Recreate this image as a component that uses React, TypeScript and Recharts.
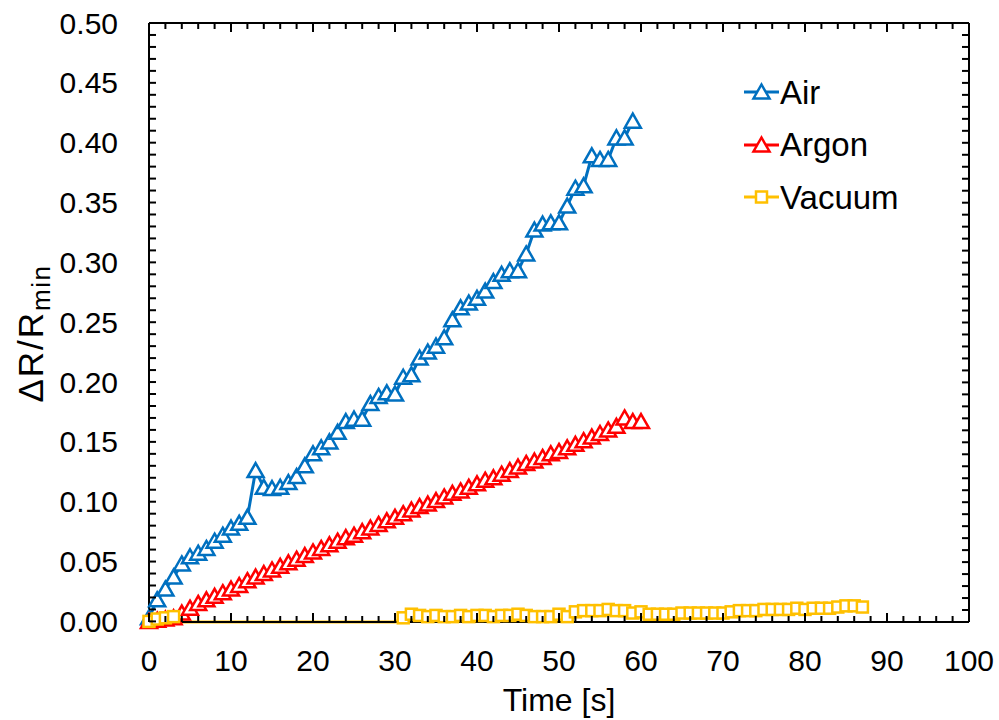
import React from 'react';
import { LineChart, Line, XAxis, YAxis, Legend } from 'recharts';

const FONT = '"Liberation Sans", Arial, Helvetica, sans-serif';

// ---- data ----
const time = [
  0, 1, 2, 3, 4, 5, 6, 7, 8, 9, 10, 11, 12, 13, 14, 15, 16, 17, 18, 19,
  20, 21, 22, 23, 24, 25, 26, 27, 28, 29, 30, 31, 32, 33, 34, 35, 36, 37, 38, 39,
  40, 41, 42, 43, 44, 45, 46, 47, 48, 49, 50, 51, 52, 53, 54, 55, 56, 57, 58, 59,
  60, 61, 62, 63, 64, 65, 66, 67, 68, 69, 70, 71, 72, 73, 74, 75, 76, 77, 78, 79,
  80, 81, 82, 83, 84, 85, 86, 87,
];

const airValues = [
  0.003, 0.018, 0.027, 0.037, 0.048, 0.054, 0.057, 0.061, 0.067, 0.072,
  0.078, 0.082, 0.087, 0.126, 0.112, 0.111, 0.112, 0.116, 0.121, 0.130,
  0.140, 0.145, 0.150, 0.158, 0.167, 0.169, 0.169, 0.182, 0.188, 0.191,
  0.190, 0.204, 0.206, 0.220, 0.225, 0.230, 0.237, 0.252, 0.262, 0.266,
  0.270, 0.276, 0.284, 0.290, 0.293, 0.293, 0.307, 0.327, 0.332, 0.333,
  0.333, 0.347, 0.362, 0.364, 0.389, 0.386, 0.386, 0.404, 0.404, 0.418,
];

const argonValues = [
  0.000, 0.001, 0.002, 0.003, 0.007, 0.011, 0.015, 0.018, 0.021, 0.024,
  0.027, 0.030, 0.034, 0.037, 0.040, 0.043, 0.046, 0.049, 0.052, 0.055,
  0.058, 0.061, 0.064, 0.067, 0.070, 0.072, 0.075, 0.078, 0.081, 0.084,
  0.087, 0.090, 0.093, 0.096, 0.098, 0.101, 0.104, 0.107, 0.109, 0.112,
  0.115, 0.118, 0.120, 0.123, 0.126, 0.129, 0.132, 0.134, 0.137, 0.140,
  0.142, 0.145, 0.148, 0.151, 0.154, 0.157, 0.160, 0.163, 0.170, 0.167,
  0.167,
];

// values slightly below zero (t = 4..30) sit under the axis, markers not shown
const vacuumValues = [
  0.000, 0.002, 0.003, 0.004, -0.0005, -0.0005, -0.0005, -0.0005, -0.0005, -0.0005,
  -0.0005, -0.0005, -0.0005, -0.0005, -0.0005, -0.0005, -0.0005, -0.0005, -0.0005, -0.0005,
  -0.0005, -0.0005, -0.0005, -0.0005, -0.0005, -0.0005, -0.0005, -0.0005, -0.0005, -0.0005,
  -0.0005, 0.003, 0.006, 0.005, 0.004, 0.005, 0.004, 0.004, 0.005, 0.004,
  0.005, 0.005, 0.004, 0.005, 0.005, 0.006, 0.005, 0.004, 0.004, 0.004,
  0.006, 0.004, 0.008, 0.009, 0.009, 0.009, 0.010, 0.009, 0.009, 0.007,
  0.008, 0.006, 0.006, 0.006, 0.006, 0.007, 0.007, 0.007, 0.007, 0.007,
  0.007, 0.008, 0.009, 0.009, 0.009, 0.010, 0.010, 0.010, 0.010, 0.011,
  0.010, 0.011, 0.011, 0.011, 0.012, 0.013, 0.013, 0.012,
];

const xTickLabels = [0, 10, 20, 30, 40, 50, 60, 70, 80, 90, 100];
const xMinorTicks = [
  0, 2, 4, 6, 8, 10, 12, 14, 16, 18, 20, 22, 24, 26, 28, 30, 32, 34, 36, 38, 40,
  42, 44, 46, 48, 50, 52, 54, 56, 58, 60, 62, 64, 66, 68, 70, 72, 74, 76, 78, 80,
  82, 84, 86, 88, 90, 92, 94, 96, 98, 100,
];
const yMajorTicks = [0, 0.05, 0.1, 0.15, 0.2, 0.25, 0.3, 0.35, 0.4, 0.45, 0.5];
const yTickLabels = ['0.00', '0.05', '0.10', '0.15', '0.20', '0.25', '0.30', '0.35', '0.40', '0.45', '0.50'];
const yMinorTicks = [
  0, 0.01, 0.02, 0.03, 0.04, 0.05, 0.06, 0.07, 0.08, 0.09, 0.1, 0.11, 0.12, 0.13,
  0.14, 0.15, 0.16, 0.17, 0.18, 0.19, 0.2, 0.21, 0.22, 0.23, 0.24, 0.25, 0.26,
  0.27, 0.28, 0.29, 0.3, 0.31, 0.32, 0.33, 0.34, 0.35, 0.36, 0.37, 0.38, 0.39,
  0.4, 0.41, 0.42, 0.43, 0.44, 0.45, 0.46, 0.47, 0.48, 0.49, 0.5,
];

const seriesNames = ['Air', 'Argon', 'Vacuum'];
const seriesColors = ['#0070C0', '#FF0000', '#FFC000'];
const seriesShapes = ['triangle', 'triangle', 'square'];

const airData = airValues.map((v, i) => ({ t: time[i], v }));
const argonData = argonValues.map((v, i) => ({ t: time[i], v }));
const vacuumData = vacuumValues.map((v, i) => ({ t: time[i], v }));
const seriesData = [airData, argonData, vacuumData];

// ---- markers ----
function Marker({ shape, cx, cy, color }: { shape: string; cx: number; cy: number; color: string }) {
  if (shape === 'square') {
    return (
      <rect x={cx - 5.5} y={cy - 5.5} width={11} height={11} fill="#fff" stroke={color} strokeWidth={2.5} />
    );
  }
  return (
    <path
      d={`M${cx},${cy - 7.5}L${cx + 8},${cy + 6.5}L${cx - 8},${cy + 6.5}Z`}
      fill="#fff"
      stroke={color}
      strokeWidth={2.5}
    />
  );
}

function makeDot(shape: string, color: string) {
  return (props: any) => {
    const { cx, cy, index, payload } = props;
    const k = `d-${shape}-${color}-${index}`;
    if (cx == null || cy == null || payload == null || payload.v == null || payload.v < 0) {
      return <g key={k} />;
    }
    return (
      <g key={k}>
        <Marker shape={shape} cx={cx} cy={cy} color={color} />
      </g>
    );
  };
}

// ---- ticks ----
const near = (a: number, b: number) => Math.abs(a - b) < 1e-9;

const LeftTick = (props: any) => {
  const { x, y, payload } = props;
  const idx = yMajorTicks.findIndex((m) => near(m, payload.value));
  return (
    <g>
      <line x1={x} x2={x + 7} y1={y} y2={y} stroke="#000" strokeWidth={2} />
      {idx >= 0 && (
        <text x={x - 31} y={y} dy={10.5} textAnchor="end" fontSize={30} fontFamily={FONT} fill="#000">
          {yTickLabels[idx]}
        </text>
      )}
    </g>
  );
};

const RightTick = (props: any) => {
  const { x, y } = props;
  return <line x1={x - 7} x2={x} y1={y} y2={y} stroke="#000" strokeWidth={2} />;
};

const BottomTick = (props: any) => {
  const { x, y, payload } = props;
  const major = xTickLabels.some((m) => near(m, payload.value));
  return (
    <g>
      <line x1={x} x2={x} y1={y} y2={y - (major ? 9 : 6)} stroke="#000" strokeWidth={2} />
      {major && (
        <text x={x} y={y + 49} textAnchor="middle" fontSize={30} fontFamily={FONT} fill="#000">
          {payload.value}
        </text>
      )}
    </g>
  );
};

const TopTick = (props: any) => {
  const { x, y, payload } = props;
  const major = xTickLabels.some((m) => near(m, payload.value));
  return <line x1={x} x2={x} y1={y} y2={y + (major ? 9 : 6)} stroke="#000" strokeWidth={2} />;
};

const XTitle = (props: any) => {
  const vb = props.viewBox || { x: 149, y: 622, width: 820 };
  return (
    <text x={vb.x + vb.width / 2} y={vb.y + 89} textAnchor="middle" fontSize={32} fontFamily={FONT} fill="#000">
      Time [s]
    </text>
  );
};

const YTitle = (props: any) => {
  const vb = props.viewBox || { x: 0, y: 23, width: 149, height: 599 };
  const cx = 43;
  const cy = vb.y + vb.height / 2 + 11;
  return (
    <text
      x={cx}
      y={cy}
      transform={`rotate(-90 ${cx} ${cy})`}
      textAnchor="middle"
      fontSize={35}
      letterSpacing={2}
      fontFamily={FONT}
      fill="#000"
    >
      <tspan>ΔR/R</tspan>
      <tspan fontSize={26} dy={7} letterSpacing={1.5}>min</tspan>
    </text>
  );
};

// ---- legend ----
const LegendContent = () => (
  <div style={{ fontFamily: FONT, fontSize: 33, color: '#000' }}>
    {seriesNames.map((name, i) => (
      <div key={name} style={{ display: 'flex', alignItems: 'center', height: 52.5 }}>
        <svg width={38} height={24} style={{ display: 'block' }}>
          <line x1={2} x2={37} y1={12} y2={12} stroke={seriesColors[i]} strokeWidth={3} />
          <Marker shape={seriesShapes[i]} cx={19.5} cy={12} color={seriesColors[i]} />
        </svg>
        <span style={{ lineHeight: '33px' }}>{name}</span>
      </div>
    ))}
  </div>
);

export default function App() {
  return (
    <div style={{ position: 'absolute', left: 0, top: 0, background: '#fff' }}>
      <LineChart width={999} height={720} margin={{ top: 22, right: 29, left: 0, bottom: 0 }}>
        <XAxis
          xAxisId="b"
          type="number"
          dataKey="t"
          domain={[0, 100]}
          ticks={xMinorTicks}
          interval={0}
          tick={BottomTick}
          tickLine={false}
          tickSize={0}
          tickMargin={0}
          height={98}
          axisLine={{ stroke: '#000', strokeWidth: 2 }}
          label={XTitle}
        />
        <XAxis
          xAxisId="top"
          orientation="top"
          type="number"
          dataKey="t"
          domain={[0, 100]}
          allowDataOverflow
          ticks={xMinorTicks}
          interval={0}
          tick={TopTick}
          tickLine={false}
          tickSize={0}
          tickMargin={0}
          height={1}
          axisLine={{ stroke: '#000', strokeWidth: 2 }}
        />
        <YAxis
          yAxisId="l"
          type="number"
          domain={[0, 0.5]}
          ticks={yMinorTicks}
          interval={0}
          tick={LeftTick}
          tickLine={false}
          tickSize={0}
          tickMargin={0}
          width={149}
          axisLine={{ stroke: '#000', strokeWidth: 2 }}
          label={YTitle}
        />
        <YAxis
          yAxisId="r"
          orientation="right"
          type="number"
          domain={[0, 0.5]}
          allowDataOverflow
          ticks={yMinorTicks}
          interval={0}
          tick={RightTick}
          tickLine={false}
          tickSize={0}
          tickMargin={0}
          width={1}
          axisLine={{ stroke: '#000', strokeWidth: 2 }}
        />
        {/* invisible series that binds the mirrored frame axes */}
        <Line
          xAxisId="top"
          yAxisId="r"
          data={airData}
          dataKey="v"
          name="frame"
          stroke="none"
          dot={false}
          activeDot={false}
          legendType="none"
          isAnimationActive={false}
        />
        {seriesNames.map((name, i) => (
          <Line
            key={name}
            xAxisId="b"
            yAxisId="l"
            data={seriesData[i]}
            dataKey="v"
            name={name}
            type="linear"
            stroke={seriesColors[i]}
            strokeWidth={3}
            dot={makeDot(seriesShapes[i], seriesColors[i])}
            activeDot={false}
            isAnimationActive={false}
          />
        ))}
        <Legend
          layout="vertical"
          align="center"
          verticalAlign="middle"
          wrapperStyle={{ left: 742, top: 66, width: 240 }}
          content={LegendContent}
        />
      </LineChart>
    </div>
  );
}
